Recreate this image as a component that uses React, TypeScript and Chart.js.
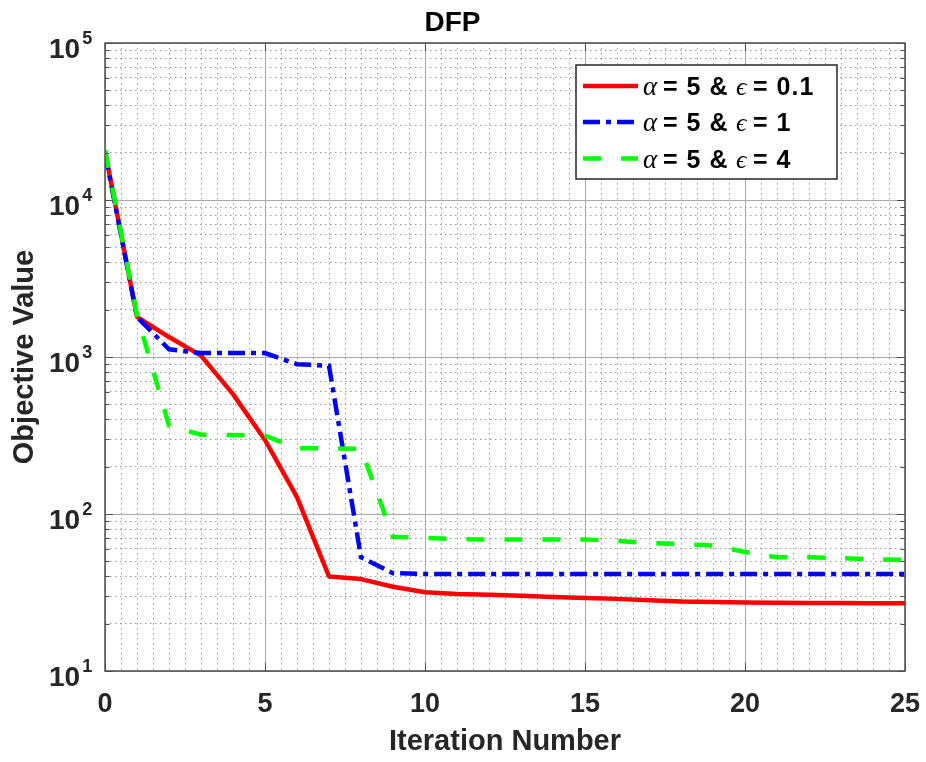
import React, { useEffect, useRef } from 'react';
import { Chart, registerables } from 'chart.js';

Chart.register(...registerables);

// ---- data ----
const ITERATIONS = [0, 1, 2, 3, 4, 5, 6, 7, 8, 9, 10, 11, 12, 13, 14, 15, 16, 17, 18, 19, 20, 21, 22, 23, 24, 25];
const RED_VALUES = [20500, 1800, 1340, 1020, 580, 296, 128, 40, 38.5, 34.4, 31.7, 30.9, 30.6, 30.2, 29.6, 29.2, 28.8, 28.2, 27.7, 27.5, 27.3, 27.2, 27.1, 27.1, 27.0, 27.0];
const BLUE_VALUES = [20000, 1800, 1120, 1060, 1060, 1060, 900, 880, 53, 42, 41.5, 41.5, 41.5, 41.5, 41.5, 41.5, 41.5, 41.5, 41.5, 41.5, 41.5, 41.5, 41.5, 41.5, 41.5, 41.5];
const GREEN_VALUES = [20800, 1850, 365, 320, 318, 315, 262, 262, 260, 71.5, 70.5, 69, 68.8, 68.8, 68.8, 68.8, 67.3, 65.3, 64.4, 63, 57.3, 53, 53, 52.3, 51.5, 51];

const SERIES_LABELS = ['= 5 &', '= 5 &', '= 5 &'];
const SERIES_EPS = ['= 0.1', '= 1', '= 4'];

const X_MIN = 0;
const X_MAX = 25;
const X_LABEL_VALUES = [0, 5, 10, 15, 20, 25];
const X_MINOR_STEP = 0.5;
const Y_DECADES = [10, 100, 1000, 10000, 100000];
const Y_EXPONENTS = ['1', '2', '3', '4', '5'];

const TITLE = 'DFP';
const X_TITLE = 'Iteration Number';
const Y_TITLE = 'Objective Value';

// ---- styles ----
const SANS = '"Liberation Sans", Arial, Helvetica, sans-serif';
const SERIF = '"Liberation Serif", "DejaVu Serif", serif';
const TEXT_COLOR = '#262626';
const AXIS_COLOR = '#4d4d4d';
const MAJOR_GRID = '#a9a9a9';
const MINOR_GRID = '#9a9a9a';
const RED = '#ff0000';
const BLUE = '#0000ff';
const GREEN = '#00ff00';
const LINE_W = 4.5;
const BLUE_DASH = [17, 6, 5, 6];
const GREEN_DASH = [18, 20];

const isMajorX = (v: number) => X_LABEL_VALUES.includes(v);
const isMajorY = (v: number) => Math.abs(Math.log10(v) - Math.round(Math.log10(v))) < 1e-9;

const decorPlugin = {
  id: 'decor',
  afterDraw(chart: any) {
    const { ctx, chartArea, scales } = chart;
    const { left, right, top, bottom } = chartArea;
    const xs = scales.x;
    const ys = scales.y;
    ctx.save();

    // inward tick marks
    ctx.strokeStyle = AXIS_COLOR;
    ctx.lineWidth = 1;
    ctx.setLineDash([]);
    ctx.beginPath();
    X_LABEL_VALUES.forEach((v) => {
      const px = Math.round(xs.getPixelForValue(v)) + 0.5;
      ctx.moveTo(px, bottom);
      ctx.lineTo(px, bottom - 8);
      ctx.moveTo(px, top);
      ctx.lineTo(px, top + 8);
    });
    Y_DECADES.forEach((d, i) => {
      const ks = i === Y_DECADES.length - 1 ? [1] : [1, 2, 3, 4, 5, 6, 7, 8, 9];
      ks.forEach((k) => {
        const v = d * k;
        const py = Math.round(ys.getPixelForValue(v)) + 0.5;
        const len = k === 1 ? 8 : 4.5;
        ctx.moveTo(left, py);
        ctx.lineTo(left + len, py);
        ctx.moveTo(right, py);
        ctx.lineTo(right - len, py);
      });
    });
    ctx.stroke();

    // box
    ctx.lineWidth = 1.5;
    ctx.strokeRect(left, top, right - left, bottom - top);

    // y tick labels with superscript exponents
    ctx.fillStyle = TEXT_COLOR;
    ctx.textAlign = 'left';
    ctx.textBaseline = 'alphabetic';
    Y_DECADES.forEach((d, i) => {
      const py = ys.getPixelForValue(d);
      ctx.font = `bold 28px ${SANS}`;
      ctx.fillText('10', 49, py + 15);
      const w = ctx.measureText('10').width;
      ctx.font = `bold 18px ${SANS}`;
      ctx.fillText(Y_EXPONENTS[i], 49 + w + 2, py + 0.5);
    });

    // legend
    const LX = 576, LY = 65, LW = 261, LH = 114;
    ctx.fillStyle = '#ffffff';
    ctx.fillRect(LX, LY, LW, LH);
    ctx.strokeStyle = '#262626';
    ctx.lineWidth = 1.5;
    ctx.strokeRect(LX, LY, LW, LH);
    const rows = [
      { color: RED, dash: [] as number[], y: 86 },
      { color: BLUE, dash: BLUE_DASH, y: 122 },
      { color: GREEN, dash: GREEN_DASH, y: 158.5 },
    ];
    rows.forEach((r, i) => {
      ctx.strokeStyle = r.color;
      ctx.lineWidth = LINE_W;
      ctx.lineCap = 'butt';
      ctx.setLineDash(r.dash);
      ctx.beginPath();
      ctx.moveTo(LX + 7, r.y);
      ctx.lineTo(LX + 62, r.y);
      ctx.stroke();
      ctx.setLineDash([]);
      const base = r.y + 9;
      ctx.fillStyle = '#000000';
      ctx.font = `italic 27px ${SERIF}`;
      ctx.fillText('\u03B1', LX + 67, base);
      ctx.font = `bold 25px ${SANS}`;
      (ctx as any).letterSpacing = '1px';
      ctx.fillText(SERIES_LABELS[i], LX + 87, base);
      (ctx as any).letterSpacing = '0px';
      ctx.font = `italic 26px ${SERIF}`;
      ctx.fillText('\u03F5', LX + 160, base);
      ctx.font = `bold 25px ${SANS}`;
      (ctx as any).letterSpacing = '1px';
      ctx.fillText(SERIES_EPS[i], LX + 177, base);
      (ctx as any).letterSpacing = '0px';
    });
    ctx.restore();
  },
};

export default function App() {
  const canvasRef = useRef<HTMLCanvasElement | null>(null);

  useEffect(() => {
    const canvas = canvasRef.current;
    if (!canvas) return;

    const xTickValues: number[] = [];
    for (let v = X_MIN; v <= X_MAX + 1e-9; v += X_MINOR_STEP) xTickValues.push(Math.round(v * 10) / 10);
    const yTickValues: number[] = [];
    Y_DECADES.forEach((d, i) => {
      if (i === Y_DECADES.length - 1) yTickValues.push(d);
      else for (let k = 1; k <= 9; k++) yTickValues.push(d * k);
    });

    const chart = new Chart(canvas, {
      type: 'line',
      data: {
        labels: ITERATIONS,
        datasets: [
          {
            label: 'red',
            data: ITERATIONS.map((x, i) => ({ x, y: RED_VALUES[i] })),
            borderColor: RED,
            borderWidth: LINE_W,
            pointRadius: 0,
            tension: 0,
            borderJoinStyle: 'round',
            order: 3,
          },
          {
            label: 'blue',
            data: ITERATIONS.map((x, i) => ({ x, y: BLUE_VALUES[i] })),
            borderColor: BLUE,
            borderWidth: LINE_W,
            borderDash: BLUE_DASH,
            pointRadius: 0,
            tension: 0,
            order: 2,
          },
          {
            label: 'green',
            data: ITERATIONS.map((x, i) => ({ x, y: GREEN_VALUES[i] })),
            borderColor: GREEN,
            borderWidth: LINE_W,
            borderDash: GREEN_DASH,
            pointRadius: 0,
            tension: 0,
            order: 1,
          },
        ],
      },
      options: {
        responsive: false,
        animation: false,
        events: [],
        layout: { padding: { left: 0, right: 21, top: 0, bottom: 0 } },
        plugins: {
          legend: { display: false },
          tooltip: { enabled: false },
          title: {
            display: true,
            text: TITLE,
            color: '#000000',
            font: { family: SANS, size: 28, weight: 'bold' },
            padding: { top: 6.5, bottom: 2.9 },
          },
        },
        scales: {
          x: {
            type: 'linear',
            min: X_MIN,
            max: X_MAX,
            afterBuildTicks: (s: any) => {
              s.ticks = xTickValues.map((v) => ({ value: v }));
            },
            afterFit: (s: any) => {
              s.height = 91;
              s.paddingLeft = 0;
              s.paddingRight = 0;
            },
            ticks: {
              autoSkip: false,
              maxRotation: 0,
              padding: 17,
              color: TEXT_COLOR,
              font: { family: SANS, size: 27, weight: 'bold' },
              callback: (v: any) => (isMajorX(Number(v)) ? String(v) : ''),
            },
            grid: {
              drawTicks: false,
              lineWidth: 1,
              color: (c: any) => (c.tick && isMajorX(c.tick.value) ? MAJOR_GRID : MINOR_GRID),
            },
            border: {
              display: false,
              dash: (c: any) => (c.tick && !isMajorX(c.tick.value) ? [1.5, 3.5] : []),
            },
            title: {
              display: true,
              text: X_TITLE,
              color: TEXT_COLOR,
              font: { family: SANS, size: 29, weight: 'bold' },
              padding: { top: 0, bottom: 2.6 },
            },
          },
          y: {
            type: 'logarithmic',
            min: 10,
            max: 100000,
            afterBuildTicks: (s: any) => {
              s.ticks = yTickValues.map((v) => ({ value: v, major: isMajorY(v) }));
            },
            afterFit: (s: any) => {
              s.width = 105;
              s.paddingTop = 0;
              s.paddingBottom = 0;
            },
            ticks: { display: false },
            grid: {
              drawTicks: false,
              lineWidth: 1,
              color: (c: any) => (c.tick && isMajorY(c.tick.value) ? MAJOR_GRID : MINOR_GRID),
            },
            border: {
              display: false,
              dash: (c: any) => (c.tick && !isMajorY(c.tick.value) ? [1.5, 3.5] : []),
            },
            title: {
              display: true,
              text: Y_TITLE,
              color: TEXT_COLOR,
              font: { family: SANS, size: 29, weight: 'bold' },
              padding: { top: 7.1, bottom: 0 },
            },
          },
        },
      } as any,
      plugins: [decorPlugin],
    });

    return () => chart.destroy();
  }, []);

  return (
    <div style={{ position: 'absolute', left: 0, top: 0, width: 926, height: 762, background: '#ffffff' }}>
      <canvas ref={canvasRef} width={926} height={762} style={{ display: 'block', width: 926, height: 762 }} />
    </div>
  );
}
